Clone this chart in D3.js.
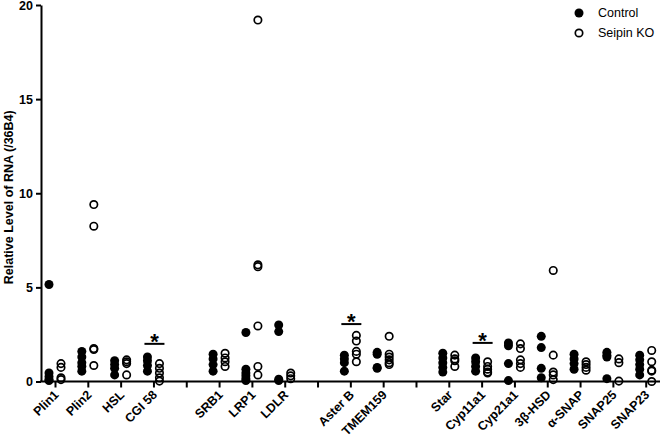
<!DOCTYPE html>
<html>
<head>
<meta charset="utf-8">
<title>RNA levels</title>
<script src="https://cdn.jsdelivr.net/npm/d3@7"></script>
<style>
  body { margin: 0; background: #fff; }
  svg { display: block; font-family: "Liberation Sans", Arial, sans-serif; }
</style>
</head>
<body>
<div id="chart"></div>
<script>
// slots along the x axis; "gapN" = empty slot with tick but no label
const slots = ["Plin1", "Plin2", "HSL", "CGI 58", "gap1", "SRB1", "LRP1", "LDLR", "gap2",
  "Aster B", "TMEM159", "gap3", "Star", "Cyp11a1", "Cyp21a1", "3β-HSD", "α-SNAP", "SNAP25", "SNAP23"];

const categories = ["Plin1", "Plin2", "HSL", "CGI 58", "SRB1", "LRP1", "LDLR",
  "Aster B", "TMEM159", "Star", "Cyp11a1", "Cyp21a1", "3β-HSD", "α-SNAP", "SNAP25", "SNAP23"];

const controlValues = [
  [5.15, 0.45, 0.25, 0.1, 0.05],
  [1.6, 1.3, 1.0, 0.8, 0.55],
  [1.1, 0.9, 0.7, 0.35],
  [1.3, 1.1, 0.85, 0.55],
  [1.45, 1.2, 0.9, 0.55],
  [2.6, 0.65, 0.45, 0.3, 0.15, 0.05],
  [3.0, 2.65, 0.12, 0.05],
  [1.4, 1.2, 1.0, 0.55],
  [1.55, 1.45, 0.75, 0.7],
  [1.5, 1.25, 1.0, 0.75, 0.5],
  [1.25, 1.05, 0.8, 0.55],
  [2.05, 1.9, 0.95, 0.05],
  [2.4, 1.8, 0.7, 0.2],
  [1.45, 1.2, 0.95, 0.65],
  [1.55, 1.4, 1.3, 0.15],
  [1.4, 1.15, 0.9, 0.65, 0.35]
];

const koValues = [
  [0.95, 0.75, 0.2, 0.1],
  [9.4, 8.25, 1.75, 1.7, 0.85],
  [1.15, 1.05, 0.95, 0.35],
  [0.95, 0.7, 0.45, 0.2, 0.02],
  [1.5, 1.25, 1.05, 0.8],
  [19.2, 6.2, 6.1, 2.95, 0.8, 0.35],
  [0.45, 0.3, 0.15],
  [2.45, 2.15, 1.6, 1.45, 1.05],
  [2.4, 1.45, 1.3, 1.15, 1.0, 0.9],
  [1.4, 1.2, 1.1, 0.8],
  [1.05, 0.8, 0.65, 0.5, 0.45],
  [2.0, 1.75, 1.15, 0.95, 0.75],
  [5.9, 1.4, 0.5, 0.35, 0.1],
  [1.05, 0.9, 0.75, 0.6],
  [1.2, 1.0, 0.02],
  [1.65, 1.05, 0.6, 0.55, 0.0]
];

// significance marks
const sigCategories = ["CGI 58", "Aster B", "Cyp11a1"];
const sigLevels = [2.0, 3.05, 2.05];

const yTicks = [0, 5, 10, 15, 20];

const width = 660, height = 438;
const offset = 6;
const rFill = 4.5, rOpen = 3.7;
const fontSize = 12.5;

const x = d3.scalePoint().domain(slots).range([55, 645.7]);
const y = d3.scaleLinear().domain([0, 20]).range([381.5, 5]);

const svg = d3.select("#chart").append("svg")
    .attr("width", width)
    .attr("height", height);

// points
const points = [];
categories.forEach((c, i) => {
  controlValues[i].forEach(v => points.push({cat: c, v, g: "control"}));
  koValues[i].forEach(v => points.push({cat: c, v, g: "ko"}));
});

svg.append("g")
  .selectAll("circle")
  .data(points)
  .join("circle")
    .attr("cx", d => x(d.cat) + (d.g === "control" ? -offset : offset))
    .attr("cy", d => y(d.v))
    .attr("r", d => d.g === "control" ? rFill : rOpen)
    .attr("fill", d => d.g === "control" ? "#000" : "none")
    .attr("stroke", d => d.g === "control" ? "none" : "#000")
    .attr("stroke-width", 1.7);

// y axis
svg.append("g")
    .attr("transform", "translate(41,0)")
    .call(d3.axisLeft(y).tickValues(yTicks).tickSize(5).tickSizeOuter(0).tickPadding(3))
    .call(g => g.selectAll("path, line").attr("stroke", "#000").attr("stroke-width", 2))
    .call(g => g.selectAll("text")
        .attr("font-size", fontSize).attr("font-weight", "bold").attr("fill", "#000")
        .attr("font-family", "'Liberation Sans', Arial, sans-serif"));

// x axis
svg.append("g")
    .attr("transform", `translate(0,${y(0)})`)
    .call(d3.axisBottom(x).tickSize(6).tickSizeOuter(0).tickFormat(d => d.startsWith("gap") ? "" : d))
    .call(g => g.select(".domain").remove())
    .call(g => g.selectAll("line").attr("stroke", "#000").attr("stroke-width", 2))
    .call(g => g.selectAll("text")
        .attr("x", 0).attr("y", 0).attr("dy", 0)
        .attr("transform", "translate(4,14) rotate(-45)")
        .attr("text-anchor", "end")
        .attr("font-size", fontSize).attr("font-weight", "bold").attr("fill", "#000")
        .attr("font-family", "'Liberation Sans', Arial, sans-serif"));

svg.append("line")
    .attr("x1", 40).attr("x2", 660)
    .attr("y1", y(0)).attr("y2", y(0))
    .attr("stroke", "#000").attr("stroke-width", 2);

// y title
svg.append("text")
    .attr("transform", `translate(13,${y(10) + 4}) rotate(-90)`)
    .attr("text-anchor", "middle")
    .attr("font-size", fontSize)
    .attr("font-weight", "bold")
    .text("Relative Level of RNA (/36B4)");

// significance bars and stars
sigCategories.forEach((c, i) => {
  const cx = x(c) + 1;
  svg.append("line")
      .attr("x1", cx - 10).attr("x2", cx + 10)
      .attr("y1", y(sigLevels[i])).attr("y2", y(sigLevels[i]))
      .attr("stroke", "#000").attr("stroke-width", 2);
  svg.append("text")
      .attr("x", cx).attr("y", y(sigLevels[i]) + 5)
      .attr("text-anchor", "middle")
      .attr("font-size", 22)
      .attr("font-weight", "bold")
      .text("*");
});

// legend
const legendItems = ["Control", "Seipin KO"];
const legend = svg.append("g")
  .selectAll("g")
  .data(legendItems)
  .join("g")
    .attr("transform", (d, i) => `translate(579,${13 + i * 20})`);

legend.append("circle")
    .attr("r", (d, i) => i === 0 ? rFill : rOpen)
    .attr("fill", (d, i) => i === 0 ? "#000" : "none")
    .attr("stroke", (d, i) => i === 0 ? "none" : "#000")
    .attr("stroke-width", 1.7);

legend.append("text")
    .attr("x", 19)
    .attr("dy", "0.35em")
    .attr("font-size", fontSize)
    .text(d => d);
</script>
</body>
</html>
